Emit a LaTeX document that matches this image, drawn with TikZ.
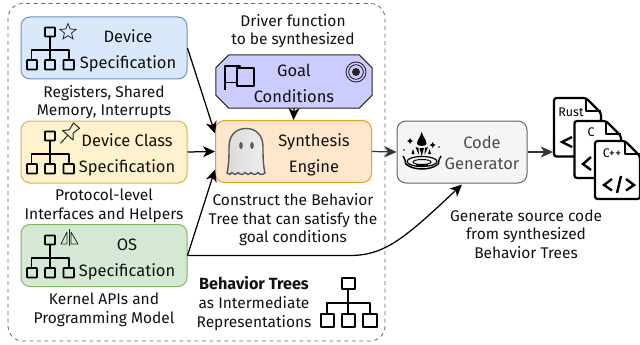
\documentclass[tikz,border=0pt]{standalone}
\usepackage{fontspec}
\setmainfont{Fira Sans}
\usetikzlibrary{arrows.meta,calc,shapes.geometric}
\definecolor{devf}{HTML}{DAE8FC}\definecolor{devd}{HTML}{6C8EBF}
\definecolor{clsf}{HTML}{FFF2CC}\definecolor{clsd}{HTML}{D6B656}
\definecolor{osf}{HTML}{D5E8D4}\definecolor{osd}{HTML}{82B366}
\definecolor{goalf}{HTML}{CCCCFF}
\definecolor{synf}{HTML}{FFE6CC}\definecolor{synd}{HTML}{E0A419}
\definecolor{genf}{HTML}{F5F5F5}\definecolor{gend}{HTML}{666666}
\definecolor{txt}{HTML}{111111}
\tikzset{
  box/.style={rectangle,rounded corners=9pt,line width=1pt,inner sep=0pt},
  boxtitle/.style={font=\fontsize{16.5}{26}\selectfont,align=center,text=txt,inner sep=0pt},
  capt/.style={font=\fontsize{15.5}{18.6}\selectfont,align=center,text=txt,inner sep=0pt},
  arr/.style={-{Stealth[length=12pt,width=11pt,inset=3.5pt]},line width=1.25pt},
  icon/.style={line width=1.8pt,line join=round,draw=black},
  thin icon/.style={line width=.8pt,line join=round,draw=black!85},
  docu/.style={line width=2.2pt,draw=black,fill=white,rounded corners=2.5pt},
  codemark/.style={line width=2.4pt,draw=black},
}
\newcommand{\treeicon}[2]{%
  \begin{scope}[shift={(#1,#2)}]
    \draw[icon,rounded corners=.6pt] (-5,-4.5) rectangle (5,4.5);
    \draw[icon] (0,4.5) -- (0,28) (-18.5,28) -- (-18.5,18) -- (19,18) -- (19,28);
    \draw[icon,rounded corners=.6pt] (-23,28) rectangle (-13,37.5);
    \draw[icon,rounded corners=.6pt] (-5,28) rectangle (5,37.5);
    \draw[icon,rounded corners=.6pt] (13.5,28) rectangle (24,37.5);
  \end{scope}}
\newcommand{\docicon}[4]{%
  \draw[docu] (#1,#2) -- (#3-15,#2) -- (#3,#2+15) -- (#3,#4) -- (#1,#4) -- cycle;
  \draw[line width=2.2pt,line join=round] (#3-15,#2) -- (#3-15,#2+13) -- (#3,#2+13);}
\begin{document}
\begin{tikzpicture}[x=1pt,y=-1pt]
\useasboundingbox (0,0) rectangle (640,345);
\draw[dashed,dash pattern=on 4pt off 3.5pt,draw=black!60,line width=.8pt,rounded corners=15pt] (8,3.5) rectangle (385,341);

% boxes
\node[box,draw=devd,fill=devf,minimum width=166pt,minimum height=62pt] (dev) at (104,48) {};
\node[box,draw=clsd,fill=clsf,minimum width=166pt,minimum height=62pt] (cls) at (104,152) {};
\node[box,draw=osd,fill=osf,minimum width=166pt,minimum height=62pt] (os) at (104,255.5) {};
\node[minimum width=156pt,minimum height=53pt,inner sep=0pt] (goal) at (294,81.5) {};
\draw[draw=black!85,fill=goalf,line width=1pt]
  ($(goal.north west)+(13,0)$) -- ($(goal.north east)+(-13,0)$) -- ($(goal.north east)+(0,13)$)
  -- ($(goal.south east)+(0,-13)$) -- ($(goal.south east)+(-13,0)$) -- ($(goal.south west)+(13,0)$)
  -- ($(goal.south west)+(0,-13)$) -- ($(goal.north west)+(0,13)$) -- cycle;
\node[box,draw=synd,fill=synf,minimum width=156pt,minimum height=62pt] (syn) at (293.5,151.5) {};
\node[box,draw=gend,fill=genf,minimum width=130pt,minimum height=62pt] (gen) at (462,152) {};
\node[minimum width=48pt,minimum height=59pt,inner sep=0pt] (rust) at (577,127.5) {};

% titles
\node[boxtitle] (devt) at (128,50.5) {Device\\Specification};
\node[boxtitle] (clst) at (127,154.5) {Device Class\\Specification};
\node[boxtitle] (ost) at (127,259) {OS\\Specification};
\node[boxtitle] (goalt) at (294,83) {Goal\\Conditions};
\node[boxtitle] (synt) at (314,155) {Synthesis\\Engine};
\node[boxtitle,text=black!70,font=\fontsize{16.5}{21}\selectfont] (gent) at (482,152.5) {Code\\Generator};

% captions
\node[capt] (devc) at (104,102) {Registers, Shared\\Memory, Interrupts};
\node[capt] (clsc) at (104,206) {Protocol-level\\Interfaces and Helpers};
\node[capt] (osc) at (104,310) {Kernel APIs and\\Programming Model};
\node[capt] (drv) at (293,31) {Driver function\\to be synthesized};
\node[capt] (con) at (293,220) {Construct the Behavior\\Tree that can satisfy the\\goal conditions};
\node[capt] (bt) at (254,303.5) {{\fontsize{16.2}{18.6}\selectfont\bfseries Behavior Trees}\\as Intermediate\\Representations};
\node[capt] (src) at (526,234) {Generate source code\\from synthesized\\Behavior Trees};

% connectors
\draw[arr] (dev.east) -- ($(syn.west)+(0,-18)$);
\draw[arr] (cls.east) -- (syn.west);
\draw[arr] (os.east) -- ($(syn.west)+(0,18)$);
\draw[arr] (goal.south) -- (syn.north);
\draw[arr,draw=black!80] (syn.east) -- (gen.west);
\draw[arr,draw=black!80] (gen.east) -- (gen.east -| rust.west);
\draw[arr] (os.east) -- (350,255.5) .. controls (385,255.5) and (405,238) .. ($(gen.south)+(0,1)$);

% tree icons
\treeicon{50}{32}
\treeicon{50}{136}
\treeicon{50}{240}
\draw[icon,line width=2pt] (341.5,277.5) rectangle (355,289);
\draw[icon,line width=2pt] (348,289) -- (348,314) (327,314) -- (327,303) -- (370,303) -- (370,314);
\draw[icon,line width=2pt] (320.5,314) rectangle (334,326.5);
\draw[icon,line width=2pt] (341.5,314) rectangle (355,326.5);
\draw[icon,line width=2pt] (362.5,314) rectangle (376.5,326.5);

% star
\node[star,star points=5,star point ratio=2.3,draw=black!85,line width=.8pt,inner sep=0pt,minimum size=17pt] (st) at (68,32) {};
% pin
\begin{scope}[shift={(68.5,134.5)},rotate=-42]
  \draw[thin icon,line width=1pt] (-4,-12) -- (4,-12) -- (2.5,-4) -- (7,1) -- (-7,1) -- (-2.5,-4) -- cycle;
  \draw[thin icon,line width=1pt] (0,1) -- (0,12);
\end{scope}
% sail
\draw[thin icon] (69,229) -- (69,246);
\draw[thin icon] (67,232) -- (61,244) -- (67,244) -- cycle;
\draw[thin icon] (71,232) -- (78,244) -- (71,244) -- cycle;
% flag
\draw[icon,line width=1.2pt] (225,90) -- (225,66) -- (240,66) -- (240,68);
\draw[icon,line width=1.2pt] (225,82.5) -- (237,82.5);
\draw[icon,line width=1.2pt] (237,68) rectangle (254,86);
% bullseye
\draw[line width=.9pt,draw=black!85] (356,72) circle (10pt) (356,72) circle (7.3pt);
\fill[black!85] (356,72) circle (4pt);
% ghost
\shade[left color=black!14,middle color=black!2,right color=black!7,draw=black!65,line width=1.4pt]
  (227,173) .. controls (229,165) and (229,155) .. (229,147)
  .. controls (229,135) and (236,128.5) .. (246,128.5)
  .. controls (256,128.5) and (263,135) .. (263,147)
  .. controls (263,155) and (263,165) .. (265,173)
  .. controls (262,175) and (260,175) .. (258,172.5)
  .. controls (256,175) and (253,175) .. (251,172.5)
  .. controls (249,175) and (246,175) .. (245,172.5)
  .. controls (243,175) and (240,175) .. (238,172.5)
  .. controls (236,175) and (233,175) .. (232,172.5)
  .. controls (231,175) and (229,175) .. (227,173) -- cycle;
\fill[black!65] (241,145.5) ellipse (1.8pt and 3.5pt) (252,145.5) ellipse (1.8pt and 3.5pt);
% code generator icon
\fill[black] (421.7,132) .. controls (423,137) and (427,141) .. (426.5,144) .. controls (426,146.5) and (417.5,146.5) .. (417,144) .. controls (416.5,141) and (420.5,137) .. (421.7,132) -- cycle;
\fill[black] (419.5,148) -- (421.7,156) -- (424,148) -- cycle (415.5,147) -- (419,155) -- (418.5,148) -- cycle (428,147) -- (424.5,155) -- (425,148) -- cycle;
\fill[black] (410,138) -- (411,140) -- (413,141) -- (411,142) -- (410,144) -- (409,142) -- (407,141) -- (409,140) -- cycle
 (432.7,142) -- (433.7,144) -- (435.7,145) -- (433.7,146) -- (432.7,148) -- (431.7,146) -- (429.7,145) -- (431.7,144) -- cycle;
\fill[black] (413,149) -- (414.5,154) -- (411.5,154) -- cycle (429.5,149) -- (431,154) -- (428,154) -- cycle;
\fill[black] (404,150) circle (.9pt) (439,147) circle (.9pt);
\draw[line width=1.5pt] (403,156) -- (405,160) .. controls (403,165) and (413,169) .. (422,169) .. controls (431,169) and (441,165) .. (439,160) -- (441,156);
\draw[line width=1.2pt] (407,161.5) arc[start angle=180,end angle=-180,x radius=15pt,y radius=5pt];
\draw[line width=1pt] (413,162) arc[start angle=180,end angle=-180,x radius=9pt,y radius=2.5pt];
\draw[line width=1.2pt] (416,165) -- (428,165);
% documents
\docicon{554}{98}{601}{156.5}
\node[font=\fontsize{12.5}{13}\selectfont,inner sep=0pt] (rustt) at (571,112) {Rust};
\draw[codemark] (572,137) -- (562,142) -- (572,147);
\docicon{574.5}{121}{621}{178}
\node[font=\fontsize{12.5}{13}\selectfont,inner sep=0pt] (ct) at (591,132) {C};
\draw[codemark] (591,157) -- (583,164) -- (591,170);
\docicon{595}{141}{640}{199}
\node[font=\fontsize{12.5}{13}\selectfont,inner sep=0pt] (cppt) at (612,153) {C++};
\draw[codemark] (612,179) -- (604,185) -- (612,190.5) (621,176) -- (617,193) (626,179) -- (634,185) -- (626,190.5);
\end{tikzpicture}
\end{document}
